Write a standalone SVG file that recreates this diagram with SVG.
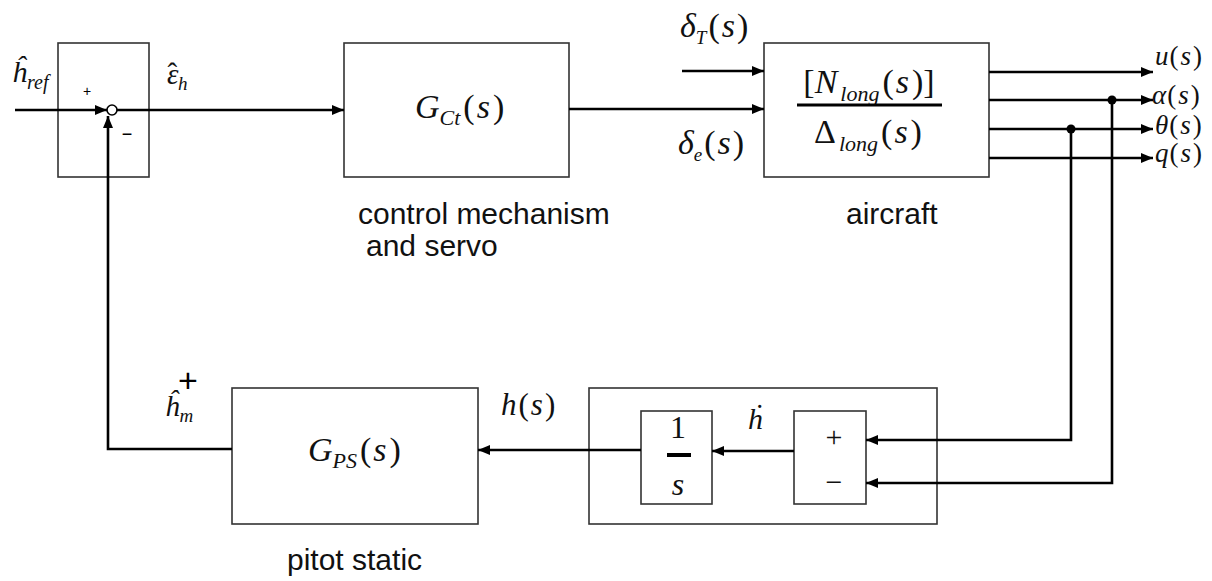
<svg xmlns="http://www.w3.org/2000/svg" width="1212" height="581" viewBox="0 0 1212 581">
<style>
.box{fill:#fff;stroke:#333;stroke-width:1.6}
.w{fill:none;stroke:#000;stroke-width:2.6}
.m{font-family:"Liberation Serif",serif;font-style:italic;fill:#111}
.u{font-style:normal}
.t{font-family:"Liberation Sans",Arial,sans-serif;font-size:30px;fill:#111}
</style>
<defs>
<marker id="a" viewBox="0 0 12 10" refX="12" refY="5" markerWidth="12" markerHeight="10" markerUnits="userSpaceOnUse" orient="auto">
<path d="M0,0 L12,5 L0,10 z" fill="#000"/>
</marker>
</defs>
<rect width="1212" height="581" fill="#fff"/>

<g id="sum1">
<rect class="box" x="58" y="43" width="91" height="134"/>
<text x="87" y="96" font-family="Liberation Sans,sans-serif" font-size="14" text-anchor="middle">+</text>
<text x="127" y="140" font-family="Liberation Sans,sans-serif" font-size="18" text-anchor="middle">−</text>
</g>
<g id="controller">
<rect class="box" x="344" y="43" width="225" height="134"/>
<text class="m" x="415" y="118" font-size="34">G<tspan font-size="22" dy="7">Ct</tspan><tspan class="u" dy="-7" dx="3">(</tspan><tspan dx="2">s</tspan><tspan class="u" dx="3">)</tspan></text>
<text class="t" x="358" y="224">control mechanism</text>
<text class="t" x="366" y="256">and servo</text>
</g>
<g id="aircraft">
<rect class="box" x="764" y="43" width="225" height="134"/>
<text class="m" x="869" y="93" font-size="34" text-anchor="middle"><tspan class="u">[</tspan>N<tspan font-size="22" dy="8" dx="3">long</tspan><tspan class="u" dy="-8" dx="3">(</tspan><tspan dx="2">s</tspan><tspan class="u" dx="3">)]</tspan></text>
<line x1="797" y1="105" x2="942" y2="105" stroke="#000" stroke-width="3"/>
<text class="m" x="868" y="143" font-size="34" text-anchor="middle"><tspan class="u">Δ</tspan><tspan font-size="22" dy="8" dx="3">long</tspan><tspan class="u" dy="-8" dx="3">(</tspan><tspan dx="2">s</tspan><tspan class="u" dx="3">)</tspan></text>
<text class="t" x="846" y="224">aircraft</text>
</g>
<g id="pitot">
<rect class="box" x="232" y="388" width="246" height="136"/>
<text class="m" x="308" y="461" font-size="34">G<tspan font-size="22" dy="7">PS</tspan><tspan class="u" dy="-7" dx="3">(</tspan><tspan dx="2">s</tspan><tspan class="u" dx="3">)</tspan></text>
<text class="t" x="287" y="570">pitot static</text>
</g>
<g id="kinematics">
<rect class="box" x="589" y="388" width="348" height="136"/>
<rect class="box" x="641" y="411" width="71" height="93"/>
<rect class="box" x="794" y="411" width="72" height="93"/>
<text class="m u" x="678" y="438" font-size="32" text-anchor="middle">1</text>
<line x1="667" y1="455" x2="691" y2="455" stroke="#000" stroke-width="4"/>
<text class="m" x="678" y="495" font-size="32" text-anchor="middle">s</text>
<text class="m u" x="834" y="447" font-size="30" text-anchor="middle">+</text>
<text class="m u" x="834" y="492" font-size="30" text-anchor="middle">−</text>
</g>

<g id="connectors">
<path class="w" d="M15,110 H107" marker-end="url(#a)"/>
<circle cx="112" cy="110" r="5" fill="#fff" stroke="#000" stroke-width="1.6"/>
<path class="w" d="M117,110 H344" marker-end="url(#a)"/>
<path class="w" d="M569,109 H764" marker-end="url(#a)"/>
<path class="w" d="M682,71 H764" marker-end="url(#a)"/>
<path class="w" d="M989,72 H1153" marker-end="url(#a)"/>
<path class="w" d="M989,100 H1153" marker-end="url(#a)"/>
<path class="w" d="M989,129 H1153" marker-end="url(#a)"/>
<path class="w" d="M989,158 H1153" marker-end="url(#a)"/>
<circle cx="1112" cy="100" r="4.5" fill="#000"/>
<circle cx="1071" cy="129" r="4.5" fill="#000"/>
<path class="w" d="M1071,129 V440 H866" marker-end="url(#a)"/>
<path class="w" d="M1112,100 V483 H866" marker-end="url(#a)"/>
<path class="w" d="M794,451 H712" marker-end="url(#a)"/>
<path class="w" d="M641,450 H478" marker-end="url(#a)"/>
<path class="w" d="M232,449 H108 V116" marker-end="url(#a)"/>
</g>

<g id="labels">
<text class="m" x="12" y="82" font-size="30">ĥ<tspan font-size="20" dy="7">ref</tspan></text>
<text class="m" x="167" y="84" font-size="29">ε<tspan class="u" dx="-11" dy="-1">ˆ</tspan><tspan font-size="19" dx="1" dy="7">h</tspan></text>
<text class="m" x="680" y="37" font-size="34">δ<tspan font-size="19" dy="7">T</tspan><tspan class="u" dy="-7" dx="2">(</tspan><tspan dx="2">s</tspan><tspan class="u" dx="2">)</tspan></text>
<text class="m" x="678" y="154" font-size="34">δ<tspan font-size="19" dy="7">e</tspan><tspan class="u" dy="-7" dx="2">(</tspan><tspan dx="2">s</tspan><tspan class="u" dx="2">)</tspan></text>
<text class="m" x="1155" y="65" font-size="27">u<tspan class="u" dx="1">(</tspan><tspan dx="2">s</tspan><tspan class="u" dx="2">)</tspan></text>
<text class="m" x="1152" y="104" font-size="27">α<tspan class="u" dx="1">(</tspan><tspan dx="2">s</tspan><tspan class="u" dx="2">)</tspan></text>
<text class="m" x="1155" y="134" font-size="27">θ<tspan class="u" dx="1">(</tspan><tspan dx="2">s</tspan><tspan class="u" dx="2">)</tspan></text>
<text class="m" x="1155" y="162" font-size="27">q<tspan class="u" dx="1">(</tspan><tspan dx="2">s</tspan><tspan class="u" dx="2">)</tspan></text>
<text class="m" x="501" y="415" font-size="31">h<tspan class="u" dx="2">(</tspan><tspan dx="2">s</tspan><tspan class="u" dx="2">)</tspan></text>
<text class="m" x="165" y="416" font-size="29">ĥ<tspan font-size="19" dy="6">m</tspan></text>
<text x="188" y="392" font-family="Liberation Sans,sans-serif" font-size="34" text-anchor="middle">+</text>
<text class="m" x="748" y="429" font-size="30">ḣ</text>
</g>
</svg>
